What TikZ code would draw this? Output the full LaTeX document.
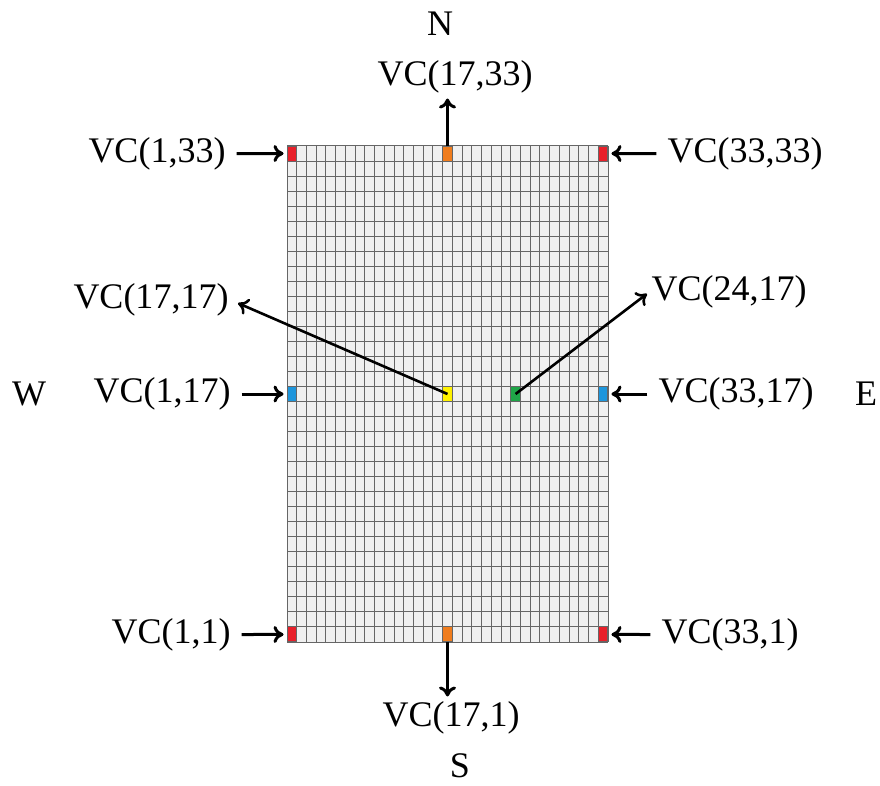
\documentclass[tikz,border=0pt]{standalone}
\usepackage{fontspec}
\setmainfont{Liberation Serif}
\usepackage{tikz}
\usetikzlibrary{arrows.meta}
\definecolor{vcred}{HTML}{E8202A}
\definecolor{vcorange}{HTML}{F07D1E}
\definecolor{vcblue}{HTML}{1E96DC}
\definecolor{vcyellow}{HTML}{FFF200}
\definecolor{vcgreen}{HTML}{1FA548}

\begin{document}
\begin{tikzpicture}[x=1pt, y=-1pt, font=\fontsize{36}{40}\selectfont, lbl/.style={inner sep=2pt}, vc/.style={draw=black!60, line width=1pt, minimum width=9.7pt, minimum height=15pt, inner sep=0pt}, arr/.style={-{To[length=10pt,width=17pt]}, line width=3pt}]
\useasboundingbox (0,0) rectangle (880,786);
% mesh of 33x33 VCs
\fill[gray!12] (287,146) rectangle (608,642);
\foreach \i in {0,...,33} {
  \draw[black!60, line width=1pt] ({287+\i*321/33},146) -- ({287+\i*321/33},642);
  \draw[black!60, line width=1pt] (287,{146+\i*496/33}) -- (608,{146+\i*496/33});
}
% marked VCs
\foreach \a/\b/\c in {1/33/vcred, 17/33/vcorange, 33/33/vcred, 1/17/vcblue, 17/17/vcyellow, 24/17/vcgreen, 33/17/vcblue, 1/1/vcred, 17/1/vcorange, 33/1/vcred}
  \node[vc, fill=\c] (c\a-\b) at ({287+(\a-0.5)*321/33},{146+(33.5-\b)*496/33}) {};
% labels
\node (n) at (440,24) {N};
\node (s) at (460,766) {S};
\node (w) at (29,394) {W};
\node (e) at (866,394) {E};
\node[lbl] (l17-33) at (455,77) {VC(17,33)};
\node[lbl] (l17-1) at (451,718) {VC(17,1)};
\node[lbl] (l1-33) at (157,153.5) {VC(1,33)};
\node[lbl] (l33-33) at (745,153.5) {VC(33,33)};
\node[lbl] (l1-17) at (162,394) {VC(1,17)};
\node[lbl] (l33-17) at (736,394) {VC(33,17)};
\node[lbl] (l1-1) at (171,634.5) {VC(1,1)};
\node[lbl] (l33-1) at (730,634.5) {VC(33,1)};
\node[lbl] (l17-17) at (151,300) {VC(17,17)};
\node[lbl] (l24-17) at (729,292) {VC(24,17)};
% arrows
\draw[arr, shorten <=9pt, shorten >=3pt] (l1-33.east) -- (c1-33.west);
\draw[arr, shorten <=9pt, shorten >=3pt] (l1-17.east) -- (c1-17.west);
\draw[arr, shorten <=9pt, shorten >=3pt] (l1-1.east) -- (c1-1.west);
\draw[arr, shorten <=9pt, shorten >=3pt] (l33-33.west) -- (c33-33.east);
\draw[arr, shorten <=9pt, shorten >=3pt] (l33-17.west) -- (c33-17.east);
\draw[arr, shorten <=9pt, shorten >=3pt] (l33-1.west) -- (c33-1.east);
\draw[arr, shorten >=3pt] (c17-33.north) -- (c17-33.north |- l17-33.south);
\draw[arr, shorten >=3pt] (c17-1.south) -- (c17-1.south |- l17-1.north);
\draw[arr, line width=2.6pt, shorten >=8pt] (c17-17.center) -- (l17-17.east);
\draw[arr, line width=2.6pt, shorten >=3pt] (c24-17.center) -- (l24-17.west);
\end{tikzpicture}
\end{document}
